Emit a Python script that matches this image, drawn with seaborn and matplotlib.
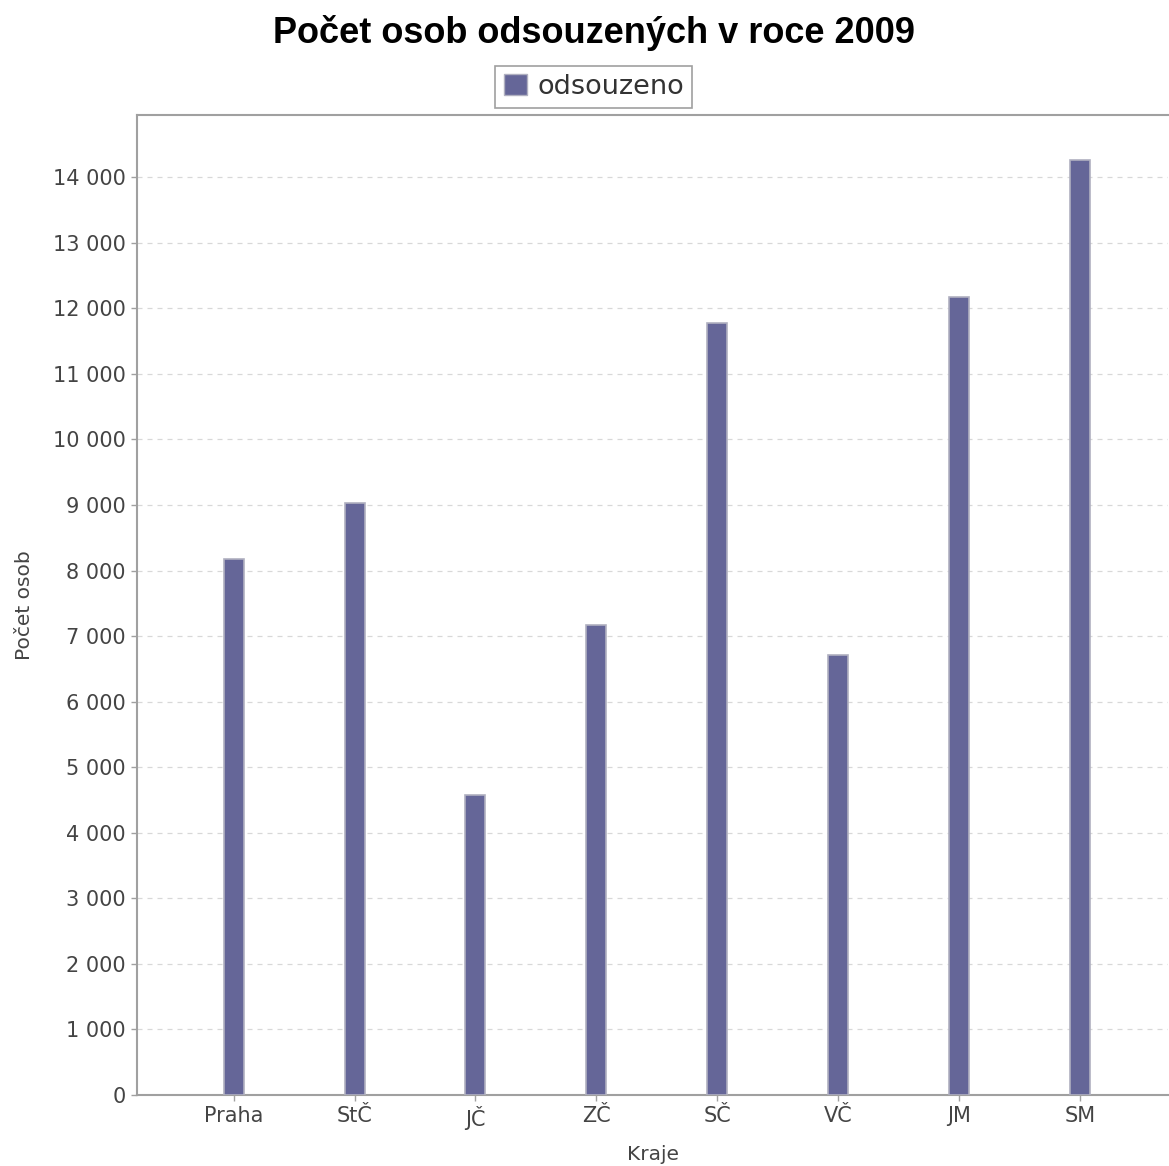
import numpy as np
import pandas as pd
import seaborn as sns
import matplotlib.pyplot as plt
from matplotlib.ticker import FuncFormatter, MultipleLocator
from matplotlib.patches import Patch

kraje = ["Praha", "StČ", "JČ", "ZČ", "SČ", "VČ", "JM", "SM"]
odsouzeno = [8170, 9030, 4575, 7170, 11775, 6710, 12170, 14260]

df = pd.DataFrame({"Kraje": kraje, "odsouzeno": odsouzeno})

sns.set_style("white")
plt.rcParams['font.family'] = ['DejaVu Sans']

fig = plt.figure(figsize=(11.69, 11.66), dpi=100)
ax = fig.add_axes([0.1172, 0.0609, 0.8820, 0.8405])

sns.barplot(data=df, x="Kraje", y="odsouzeno", color="#656698", width=0.165,
            edgecolor="#b0b0c0", linewidth=1.2, saturation=1, ax=ax, zorder=3)

ax.set_xlim(-0.8, 7.73)
ax.set_ylim(0, 14950)
ax.yaxis.set_major_locator(MultipleLocator(1000))
ax.yaxis.set_major_formatter(FuncFormatter(lambda v, p: "{:,.0f}".format(v).replace(",", " ")))
ax.grid(axis="y", color="#d8d8d8", linestyle=(0, (4, 4)), linewidth=0.9, zorder=0)
ax.set_axisbelow(True)

for s in ["left", "bottom", "top"]:
    ax.spines[s].set_color("#a0a0a0")
    ax.spines[s].set_linewidth(1.5)
ax.spines["right"].set_visible(False)
ax.tick_params(axis="both", direction="out", length=4, color="#a0a0a0", width=1,
               labelsize=15, labelcolor="#444444", left=True, bottom=True, pad=4)

ax.set_xlabel("Kraje", fontsize=14.5, color="#444444", labelpad=11)
ax.set_ylabel("Počet osob", fontsize=14.5, color="#444444", labelpad=14)

fig.suptitle("Počet osob odsouzených v roce 2009", fontsize=26, fontweight="bold",
             family="Liberation Sans", x=0.508, y=0.987, color="black")
leg = fig.legend(handles=[Patch(facecolor="#656698", edgecolor="#b0b0c0", label="odsouzeno")],
                 loc="center", bbox_to_anchor=(0.508, 0.9255), fontsize=19.5, frameon=True,
                 fancybox=False, edgecolor="#888888", handlelength=0.85, handleheight=0.85,
                 handletextpad=0.4, borderpad=0.3)
leg.get_frame().set_linewidth(1.2)
for t in leg.get_texts():
    t.set_color("#333333")

fig.savefig("out.png", dpi=100)
